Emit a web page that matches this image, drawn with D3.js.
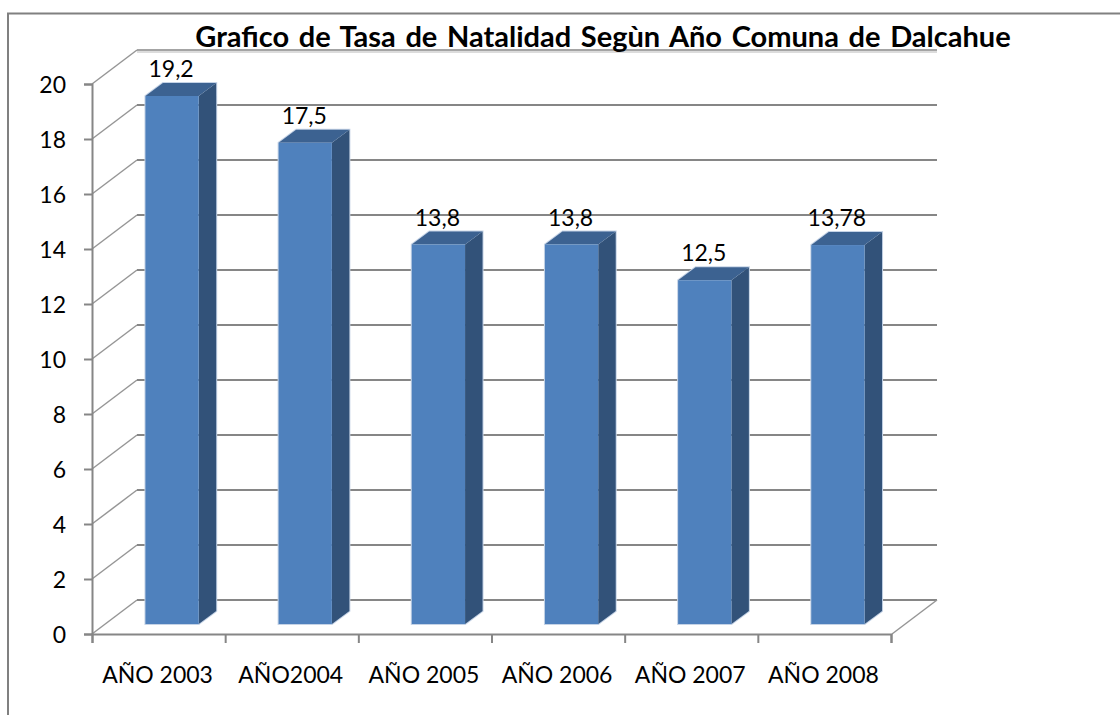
<!DOCTYPE html>
<html>
<head>
<meta charset="utf-8">
<script src="https://cdn.jsdelivr.net/npm/d3@7"></script>
<style>
  html, body { margin: 0; padding: 0; background: #fff; }
  svg { display: block; }
  text { font-family: Lato, "Open Sans", sans-serif; fill: #000; }
</style>
</head>
<body>
<div id="chart"></div>
<script>
var categories = ["AÑO 2003", "AÑO2004", "AÑO 2005", "AÑO 2006", "AÑO 2007", "AÑO 2008"];
var values = [19.2, 17.5, 13.8, 13.8, 12.5, 13.78];
var valueLabels = ["19,2", "17,5", "13,8", "13,8", "12,5", "13,78"];
var yTicks = [0, 2, 4, 6, 8, 10, 12, 14, 16, 18, 20];
var titleText = "Grafico de Tasa de Natalidad Segùn Año Comuna de Dalcahue";

var width = 1120;
var height = 715;
var gridColor = "#868686";

// 3d offsets of the box and of the bars
var wallX = 45, wallY = -34;
var barOffX = 13.5, barOffY = -10;
var depthX = 17.5, depthY = -13;

var svg = d3.select("#chart").append("svg")
  .attr("width", width)
  .attr("height", height);

var x = d3.scaleBand().domain(categories).range([92, 891]).paddingInner(0.6).paddingOuter(0.3);
var xLabels = d3.scaleBand().domain(categories).range([92, 891]);
var y = d3.scaleLinear().domain([0, 20]).range([634, 84]);

// outer frame, only top and left show
svg.append("path")
  .attr("d", "M8,715V13.5H1120")
  .attr("fill", "none")
  .attr("stroke", "#808080")
  .attr("stroke-width", 2);

// light shadow under the top gridline
svg.append("line")
  .attr("x1", 92 + wallX).attr("x2", 892 + wallX)
  .attr("y1", y(20) + wallY + 2).attr("y2", y(20) + wallY + 2)
  .attr("stroke", "#dcdcdc").attr("stroke-width", 2);

// back wall gridlines
svg.selectAll(".grid").data(yTicks).enter().append("line")
  .attr("class", "grid")
  .attr("x1", 92 + wallX).attr("x2", 892 + wallX)
  .attr("y1", function(d) { return y(d) + wallY; })
  .attr("y2", function(d) { return y(d) + wallY; })
  .attr("stroke", gridColor)
  .attr("stroke-width", function(d) { return d == 20 ? 1.5 : 2; });

// side wall diagonals
svg.selectAll(".side").data(yTicks).enter().append("line")
  .attr("class", "side")
  .attr("x1", 92).attr("x2", 92 + wallX)
  .attr("y1", function(d) { return y(d); })
  .attr("y2", function(d) { return y(d) + wallY; })
  .attr("stroke", "#969696")
  .attr("stroke-width", 1.5);

// floor right edge
svg.append("line")
  .attr("x1", 892).attr("x2", 892 + wallX)
  .attr("y1", y(0)).attr("y2", y(0) + wallY)
  .attr("stroke", "#969696")
  .attr("stroke-width", 1.5);

// bars
var bars = svg.selectAll(".bar").data(values).enter().append("g").attr("class", "bar");

function left(d, i) { return x(categories[i]) + barOffX; }
function right(d, i) { return left(d, i) + x.bandwidth(); }
function base() { return y(0) + barOffY; }
function top3d(d) { return y(d) + barOffY; }

// pale edge round the bar
bars.append("path")
  .attr("fill", "none")
  .attr("stroke", "#c5d3e6")
  .attr("stroke-width", 2)
  .attr("d", function(d, i) {
    return "M" + left(d, i) + "," + base() + "V" + top3d(d) + "L" + (left(d, i) + depthX) + "," + (top3d(d) + depthY) +
      "H" + (right(d, i) + depthX) + "V" + (base() + depthY) + "L" + right(d, i) + "," + base() + "Z";
  });

bars.append("path")
  .attr("fill", "#325279")
  .attr("d", function(d, i) {
    var r = right(d, i);
    return "M" + r + "," + base() + "V" + top3d(d) + "L" + (r + depthX) + "," + (top3d(d) + depthY) +
      "V" + (base() + depthY) + "Z";
  });

bars.append("path")
  .attr("fill", "#3c6291")
  .attr("d", function(d, i) {
    var l = left(d, i), r = right(d, i);
    return "M" + l + "," + top3d(d) + "L" + (l + depthX) + "," + (top3d(d) + depthY) +
      "H" + (r + depthX) + "L" + r + "," + top3d(d) + "Z";
  });

bars.append("rect")
  .attr("x", left)
  .attr("y", top3d)
  .attr("width", x.bandwidth())
  .attr("height", function(d) { return base() - top3d(d); })
  .attr("fill", "#4f81bd");

// value labels
svg.selectAll(".value").data(values).enter().append("text")
  .attr("class", "value")
  .attr("x", function(d, i) { return left(d, i) + x.bandwidth() / 2 - 1; })
  .attr("y", function(d) { return top3d(d) - 19; })
  .attr("text-anchor", "middle")
  .style("font-size", "23px")
  .text(function(d, i) { return valueLabels[i]; });

// y axis
var yAxis = d3.axisLeft(y).tickValues(yTicks).tickSize(8).tickPadding(18);
var yG = svg.append("g").attr("transform", "translate(92,0)").call(yAxis);
yG.selectAll("path, line").attr("stroke", gridColor).attr("stroke-width", 2);
yG.selectAll("text").style("font-size", "23px").attr("dy", "0.36em");

// x axis, ticks sit between the categories
var xTicks = d3.range(categories.length + 1);
var xIndex = d3.scaleLinear().domain([0, categories.length]).range([92, 891]);
var xAxis = d3.axisBottom(xIndex).tickValues(xTicks).tickSize(9).tickFormat("");
var xG = svg.append("g").attr("transform", "translate(0," + y(0) + ")").call(xAxis);
xG.selectAll("path, line").attr("stroke", gridColor).attr("stroke-width", 2);

svg.selectAll(".cat").data(categories).enter().append("text")
  .attr("class", "cat")
  .attr("x", function(d) { return xLabels(d) + xLabels.bandwidth() / 2 - 1; })
  .attr("y", 683)
  .attr("text-anchor", "middle")
  .style("font-size", "23px")
  .text(function(d) { return d; });

// title
svg.append("text")
  .attr("x", 603)
  .attr("y", 47)
  .attr("text-anchor", "middle")
  .style("font-size", "29px")
  .style("font-weight", "bold")
  .style("word-spacing", "2.6px")
  .text(titleText);
</script>
</body>
</html>
